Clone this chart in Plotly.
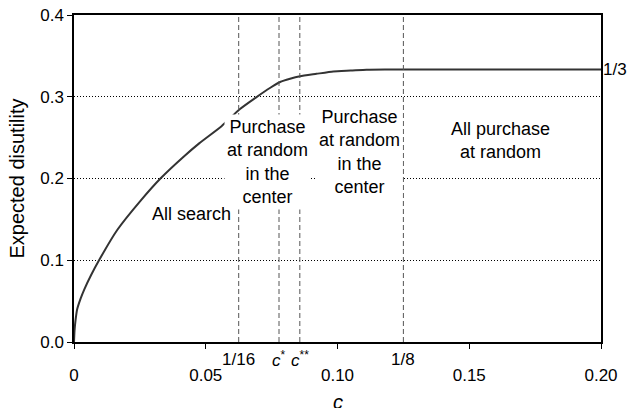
import plotly.graph_objects as go

# curve
c_vals = [0, 0.0002, 0.0006, 0.0012, 0.0025, 0.004, 0.0065, 0.0095, 0.0164, 0.0253,
          0.0328, 0.0417, 0.0475, 0.056, 0.063, 0.069, 0.0745, 0.0782, 0.082, 0.0858,
          0.092, 0.0984, 0.105, 0.111, 0.118, 0.125, 0.20]
disutility = [0, 0.014, 0.027, 0.040, 0.053, 0.065, 0.082, 0.100, 0.137, 0.173,
              0.200, 0.227, 0.243, 0.264, 0.285, 0.299, 0.311, 0.318, 0.322, 0.325,
              0.328, 0.331, 0.332, 0.333, 0.3333, 0.3333, 0.3333]

cutoffs = [1 / 16, 0.0778, 0.0857, 1 / 8]
cutoff_labels = ["1/16", "<i>c</i><sup>*</sup>", "<i>c</i><sup>**</sup>", "1/8"]

x_ticks = [0, 0.05, 0.10, 0.15, 0.20]
x_tick_text = ["0", "0.05", "0.10", "0.15", "0.20"]
y_ticks = [0, 0.1, 0.2, 0.3, 0.4]
y_tick_text = ["0.0", "0.1", "0.2", "0.3", "0.4"]

regions = [
    ("All search", 0.0447, 0.156),
    ("Purchase<br>at random<br>in the<br>center", 0.0733, 0.220),
    ("Purchase<br>at random<br>in the<br>center", 0.1083, 0.232),
    ("All purchase<br>at random", 0.1617, 0.247),
]

FONT = "Liberation Sans, Arial, sans-serif"

fig = go.Figure()
fig.add_trace(go.Scatter(x=c_vals, y=disutility, mode="lines",
                         line=dict(color="#333333", width=2, shape="spline", smoothing=0.5),
                         hoverinfo="skip"))

for c in cutoffs:
    fig.add_shape(type="line", x0=c, x1=c, y0=0, y1=0.4, xref="x", yref="y",
                  line=dict(color="#555555", width=1, dash="5px,3px"))

for c, lab in zip(cutoffs, cutoff_labels):
    fig.add_annotation(x=c, y=0, xref="x", yref="paper", yanchor="middle", yshift=-17,
                       text=lab, showarrow=False, font=dict(size=17, color="black"))

for text, x, y in regions:
    fig.add_annotation(x=x, y=y, xref="x", yref="y", text=text, showarrow=False,
                       bgcolor="white", borderpad=2,
                       font=dict(size=18, color="black"))

fig.add_annotation(x=1, y=1 / 3, xref="paper", yref="y", xanchor="left", xshift=0,
                   text="1/3", showarrow=False, font=dict(size=17, color="black"))

# x axis title sits low, partly clipped by the bottom edge like the original
fig.add_annotation(x=0.5, y=0, xref="paper", yref="paper", yanchor="top", yshift=-47,
                   text="<i>c</i>", showarrow=False, font=dict(size=20, color="black"))

fig.update_xaxes(range=[0, 0.2], tickvals=x_ticks, ticktext=x_tick_text,
                 showgrid=False, zeroline=False, showline=True, mirror=True,
                 linecolor="black", linewidth=1.5, ticks="outside", ticklen=5,
                 tickcolor="black", ticklabelstandoff=12, automargin=False)
fig.update_yaxes(range=[0, 0.4], tickvals=y_ticks, ticktext=y_tick_text,
                 showgrid=True, gridcolor="black", griddash="1px,2px", gridwidth=1,
                 zeroline=False, showline=True, mirror=True,
                 linecolor="black", linewidth=1.5, ticks="outside", ticklen=5,
                 tickcolor="black", automargin=False,
                 title=dict(text="Expected disutility", standoff=10, font=dict(size=20)))

fig.update_layout(
    width=630, height=408,
    margin=dict(l=74, r=29, t=15, b=66),
    showlegend=False,
    plot_bgcolor="white",
    paper_bgcolor="white",
    font=dict(family=FONT, size=17, color="black"),
)

fig.write_html("out.html", config={"displayModeBar": False},
               post_script="document.body.style.margin='0';")
